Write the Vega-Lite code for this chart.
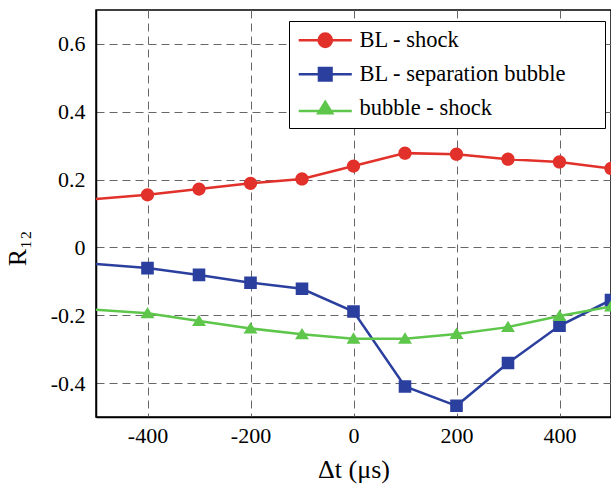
{
  "$schema": "https://vega.github.io/schema/vega-lite/v6.json",
  "width": 515,
  "height": 407,
  "autosize": "none",
  "padding": {"left": 96, "top": 10, "right": 0, "bottom": 67},
  "background": "white",
  "config": {
    "font": "Liberation Serif",
    "view": {"stroke": "black", "strokeWidth": 1.5},
    "legend": {
      "orient": "none",
      "legendX": 193,
      "legendY": 11,
      "padding": 8,
      "strokeColor": "black",
      "fillColor": "white",
      "cornerRadius": 0,
      "rowPadding": 10,
      "symbolOffset": 17,
      "labelOffset": 23,
      "labelFont": "Liberation Serif",
      "labelFontSize": 22.5,
      "labelColor": "black",
      "labelLimit": 400,
      "symbolSize": 176,
      "symbolStrokeWidth": 2.5,
      "titleOrient": "right",
      "titlePadding": 31,
      "titleFontSize": 8,
      "titleColor": "white"
    }
  },
  "data": {
    "values": [
      {"x": -600, "series": "BL - shock", "r": 0.131},
      {"x": -400, "series": "BL - shock", "r": 0.155},
      {"x": -300, "series": "BL - shock", "r": 0.172},
      {"x": -200, "series": "BL - shock", "r": 0.189},
      {"x": -100, "series": "BL - shock", "r": 0.202},
      {"x": 0, "series": "BL - shock", "r": 0.240},
      {"x": 100, "series": "BL - shock", "r": 0.278},
      {"x": 200, "series": "BL - shock", "r": 0.275},
      {"x": 300, "series": "BL - shock", "r": 0.260},
      {"x": 400, "series": "BL - shock", "r": 0.252},
      {"x": 500, "series": "BL - shock", "r": 0.233},
      {"x": -600, "series": "BL - separation bubble", "r": -0.037},
      {"x": -400, "series": "BL - separation bubble", "r": -0.061},
      {"x": -300, "series": "BL - separation bubble", "r": -0.081},
      {"x": -200, "series": "BL - separation bubble", "r": -0.104},
      {"x": -100, "series": "BL - separation bubble", "r": -0.122},
      {"x": 0, "series": "BL - separation bubble", "r": -0.189},
      {"x": 100, "series": "BL - separation bubble", "r": -0.410},
      {"x": 200, "series": "BL - separation bubble", "r": -0.467},
      {"x": 300, "series": "BL - separation bubble", "r": -0.341},
      {"x": 400, "series": "BL - separation bubble", "r": -0.231},
      {"x": 500, "series": "BL - separation bubble", "r": -0.155},
      {"x": -600, "series": "bubble - shock", "r": -0.174},
      {"x": -400, "series": "bubble - shock", "r": -0.194},
      {"x": -300, "series": "bubble - shock", "r": -0.217},
      {"x": -200, "series": "bubble - shock", "r": -0.239},
      {"x": -100, "series": "bubble - shock", "r": -0.256},
      {"x": 0, "series": "bubble - shock", "r": -0.269},
      {"x": 100, "series": "bubble - shock", "r": -0.269},
      {"x": 200, "series": "bubble - shock", "r": -0.255},
      {"x": 300, "series": "bubble - shock", "r": -0.235},
      {"x": 400, "series": "bubble - shock", "r": -0.202},
      {"x": 500, "series": "bubble - shock", "r": -0.174}
    ]
  },
  "encoding": {
    "x": {
      "field": "x",
      "type": "quantitative",
      "scale": {"domain": [-500, 500], "nice": false, "zero": false},
      "axis": {
        "title": "Δt (μs)",
        "values": [-400, -200, 0, 200, 400],
        "labelExpr": "replace(format(datum.value, 'd'), '−', '-')",
        "grid": true,
        "gridColor": "#666",
        "gridDash": [8, 5],
        "gridWidth": 1,
        "ticks": false,
        "tickSize": 0,
        "domainColor": "black",
        "domainWidth": 1.5,
        "labelFont": "Liberation Serif",
        "labelFontSize": 22,
        "labelColor": "black",
        "labelPadding": 8,
        "titleFont": "Liberation Serif",
        "titleFontSize": 26,
        "titleFontWeight": "normal",
        "titleColor": "black",
        "titlePadding": 10
      }
    },
    "y": {
      "field": "r",
      "type": "quantitative",
      "scale": {"domain": [-0.5, 0.7], "nice": false, "zero": false},
      "axis": {
        "title": "R₁₂",
        "values": [-0.4, -0.2, 0, 0.2, 0.4, 0.6],
        "labelExpr": "datum.value === 0 ? '0' : replace(format(datum.value, '.1f'), '−', '-')",
        "grid": true,
        "gridColor": "#666",
        "gridDash": [8, 5],
        "gridWidth": 1,
        "ticks": false,
        "tickSize": 0,
        "domainColor": "black",
        "domainWidth": 1.5,
        "labelFont": "Liberation Serif",
        "labelFontSize": 22,
        "labelColor": "black",
        "labelPadding": 11,
        "titleFont": "Liberation Serif",
        "titleFontSize": 26,
        "titleFontWeight": "normal",
        "titleColor": "black",
        "titleBaseline": "alphabetic",
        "titleX": -71,
        "titleY": 238
      }
    },
    "color": {
      "field": "series",
      "type": "nominal",
      "scale": {
        "domain": ["BL - shock", "BL - separation bubble", "bubble - shock"],
        "range": ["#e1312a", "#2b3f9e", "#5dc64b"]
      },
      "legend": {"title": "\u00a0"}
    }
  },
  "layer": [
    {
      "mark": {"type": "line", "clip": true, "strokeWidth": 2.5}
    },
    {
      "mark": {"type": "point", "filled": true, "opacity": 1, "clip": true},
      "encoding": {
        "size": {"value": 176},
        "shape": {
          "field": "series",
          "type": "nominal",
          "scale": {
            "domain": ["BL - shock", "BL - separation bubble", "bubble - shock"],
            "range": [
              "M-1,0A1,1,0,1,0,1,0A1,1,0,1,0,-1,0Z M-4,0H4",
              "M-0.95,-0.95H0.95V0.95H-0.95Z M-4,0H4",
              "M0,-0.95L1.05,0.75H-1.05Z M-4,0.4H4"
            ]
          },
          "legend": {
            "title": "\u00a0",
            "encode": {
              "symbols": {
                "update": {
                  "fill": {"scale": "color", "field": "value"},
                  "stroke": {"scale": "color", "field": "value"},
                  "strokeWidth": {"value": 2.5},
                  "opacity": {"value": 1}
                }
              }
            }
          }
        }
      }
    }
  ]
}
